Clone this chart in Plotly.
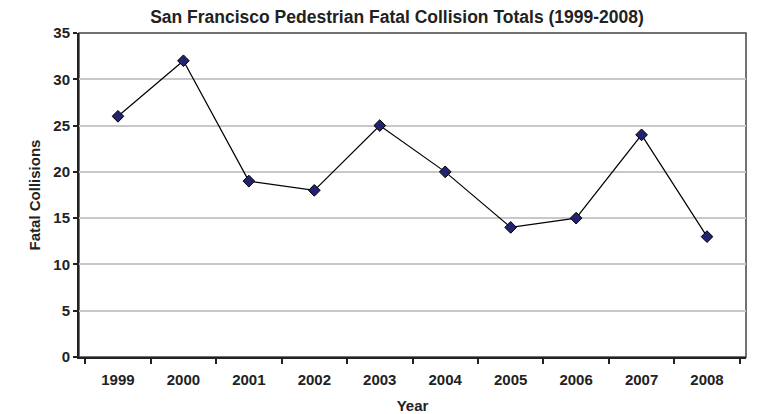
import plotly.graph_objects as go

years = ["1999", "2000", "2001", "2002", "2003", "2004", "2005", "2006", "2007", "2008"]
fatal_collisions = [26, 32, 19, 18, 25, 20, 14, 15, 24, 13]

FONT = "Arial, Liberation Sans, sans-serif"
TEXT = "#222222"

# the page body adds an 8px margin, so the figure is 8px smaller and offset
W, H = 750, 406

fig = go.Figure()

fig.add_trace(go.Scatter(
    x=years,
    y=fatal_collisions,
    mode="lines+markers",
    line=dict(color="black", width=1.2),
    marker=dict(symbol="diamond", size=9, color="#22226e", line=dict(color="black", width=1)),
    name="Fatal Collisions",
))

# thin dark frame on top/right like the original spreadsheet chart
fig.add_shape(type="rect", xref="paper", yref="paper", x0=0, x1=1, y0=0, y1=1,
              line=dict(color="#444444", width=1.5), layer="below")

fig.update_layout(
    title=dict(text="San Francisco Pedestrian Fatal Collision Totals (1999-2008)",
               x=389 / W, xanchor="center", y=1 - 9 / H, yanchor="middle",
               font=dict(family=FONT, size=17.5, color=TEXT, weight="bold")),
    width=W, height=H,
    margin=dict(l=71, r=12, t=25, b=57),
    paper_bgcolor="white",
    plot_bgcolor="white",
    showlegend=False,
    font=dict(family=FONT, color=TEXT),
)

fig.update_xaxes(
    type="category",
    automargin=False,
    tickson="boundaries",
    ticks="outside", ticklen=5, tickwidth=1.5, tickcolor="#222222",
    ticklabelstandoff=8,
    showline=True, linecolor="#222222", linewidth=2,
    showgrid=False,
    tickfont=dict(family=FONT, size=15, color=TEXT, weight="bold"),
    title=dict(text="Year", standoff=16,
               font=dict(family=FONT, size=15, color=TEXT, weight="bold")),
)

fig.update_yaxes(
    range=[0, 35], dtick=5,
    automargin=False,
    ticks="outside", ticklen=4, tickwidth=1.5, tickcolor="#222222",
    showline=True, linecolor="#222222", linewidth=2,
    showgrid=True, gridcolor="#c8c8c8", gridwidth=1.5,
    zeroline=False,
    tickfont=dict(family=FONT, size=15, color=TEXT, weight="bold"),
    title=dict(text="Fatal Collisions", standoff=9,
               font=dict(family=FONT, size=15, color=TEXT, weight="bold")),
)

fig.write_html("out.html")
